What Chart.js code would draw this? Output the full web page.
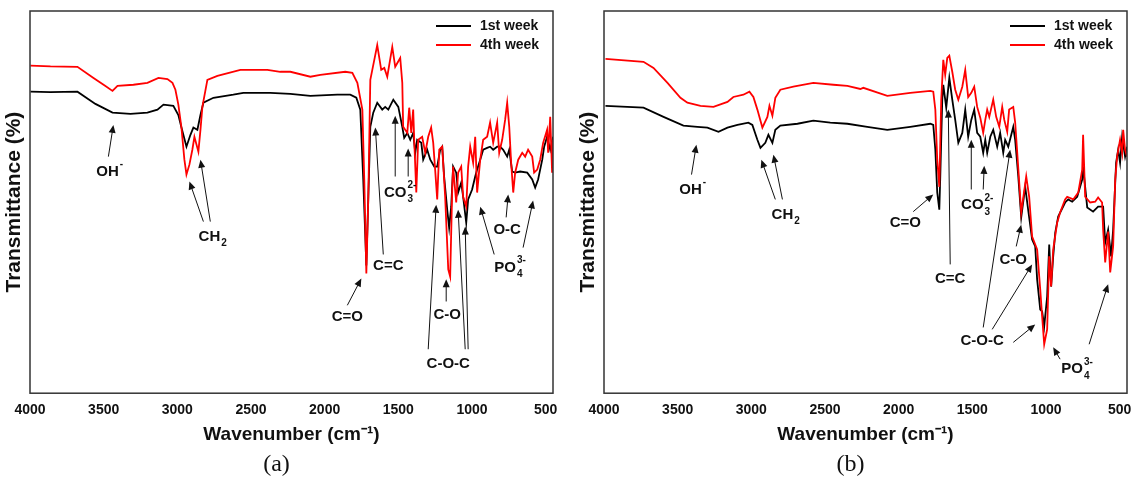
<!DOCTYPE html>
<html>
<head>
<meta charset="utf-8">
<script src="https://cdn.jsdelivr.net/npm/chart.js@4.4.1/dist/chart.umd.min.js"></script>
<style>
  body { margin: 0; background: #fff; overflow: hidden; }
  canvas { position: absolute; top: 0; }
  #chartA { left: 0; }
  #chartB { left: 574px; }
</style>
</head>
<body>
<canvas id="chartA" width="568" height="480"></canvas>
<canvas id="chartB" width="563" height="480"></canvas>
<script>
const tickLabels = [4000, 3500, 3000, 2500, 2000, 1500, 1000, 500];
const seriesNames = ['1st week', '4th week'];
const seriesColors = ['#000000', '#ff0000'];

// panel (a) - wavenumber (cm-1) and transmittance (%)
const aWeek1Wn = [3997,3861,3678,3556,3440,3318,3203,3135,3094,3027,2993,2972,2938,2911,2891,2864,2843,2823,2755,2620,2552,2369,2233,2097,1914,1826,1785,1758,1738,1717,1704,1690,1670,1643,1609,1589,1568,1534,1500,1473,1460,1439,1419,1399,1385,1372,1344,1331,1304,1283,1256,1236,1216,1202,1189,1168,1155,1141,1128,1107,1094,1073,1060,1039,1026,999,978,965,944,924,897,877,856,829,809,788,761,747,727,707,673,625,591,571,551,523,510,490,469,449];
const aWeek1T = [78.9,78.8,78.9,75.7,73.4,73.1,73.4,74.2,75.5,75.2,72.8,69.5,64.5,67.6,69.5,68.9,72.8,76.0,77.3,78.1,78.6,78.6,78.3,77.8,78.1,78.1,77.3,74.2,55.9,33.4,50.7,69.7,73.4,76.0,74.2,74.9,74.2,76.8,74.9,69.7,66.8,68.1,66.3,68.1,62.9,66.3,65.5,61.1,63.7,61.1,59.3,59.3,63.7,64.5,56.7,48.0,43.3,48.8,59.3,57.7,52.5,55.1,51.4,44.6,50.7,53.3,56.7,58.5,61.1,63.7,64.2,64.5,63.7,64.5,64.5,63.7,61.9,63.7,58.0,57.7,58.0,57.7,55.9,53.8,55.9,61.1,64.5,67.1,63.7,67.1];
const aWeek4Wn = [3997,3861,3678,3569,3488,3440,3406,3298,3203,3128,3067,3033,3013,2993,2972,2952,2938,2918,2898,2884,2857,2843,2830,2796,2728,2572,2389,2301,2233,2097,2029,1860,1812,1778,1744,1731,1717,1704,1690,1663,1643,1616,1595,1575,1541,1521,1487,1473,1467,1439,1426,1412,1399,1392,1378,1365,1338,1317,1297,1277,1263,1250,1236,1222,1202,1182,1161,1148,1134,1128,1107,1094,1073,1060,1039,1026,1012,992,978,965,944,924,897,877,856,829,815,795,775,761,747,734,720,707,686,659,639,619,591,578,557,537,517,490,483,469,456,449];
const aWeek4T = [85.7,85.5,85.4,82.5,80.4,79.1,80.4,80.7,81.2,82.5,82.2,81.2,79.4,75.5,69.5,61.1,57.2,59.8,63.7,67.1,63.2,68.9,74.9,82.0,83.0,84.6,84.6,84.1,84.1,82.8,83.3,84.1,83.8,81.2,74.2,55.9,31.3,50.7,82.0,87.2,91.1,84.6,85.1,82.8,90.6,85.4,87.7,81.2,69.7,68.1,74.7,68.1,74.2,66.3,52.5,66.3,67.1,62.9,67.1,69.5,65.5,58.5,50.7,63.7,64.5,51.4,32.4,30.5,53.3,59.3,49.9,57.7,59.3,51.4,48.8,59.3,64.5,60.3,67.1,52.5,61.1,66.3,67.1,70.8,65.5,70.8,62.9,66.3,71.5,76.0,69.7,60.3,52.5,57.7,61.1,62.9,61.9,63.7,61.9,57.7,58.5,61.1,65.5,68.9,62.9,72.3,57.7,66.3];

// panel (b)
const bWeek1Wn = [3990,3732,3596,3461,3366,3298,3223,3162,3094,3020,2993,2959,2938,2905,2884,2857,2837,2803,2687,2579,2464,2348,2213,2077,1921,1785,1765,1751,1738,1724,1718,1704,1697,1677,1656,1636,1616,1595,1568,1548,1528,1507,1487,1467,1446,1426,1412,1399,1378,1358,1331,1311,1290,1277,1256,1222,1209,1188,1168,1141,1121,1094,1073,1060,1039,1026,1012,992,978,965,951,937,917,870,849,822,788,754,748,720,680,646,612,598,578,558,544,524,510,497,483,463,449];
const bWeek1T = [75.2,74.7,72.3,70.0,69.7,69.5,68.4,69.5,70.2,70.8,70.2,66.3,64.2,65.5,67.6,65.5,68.9,70.0,70.5,71.3,70.8,70.5,69.7,68.9,69.7,70.5,70.2,63.7,52.5,48.0,55.9,76.8,80.7,74.7,82.5,76.8,71.5,65.5,68.1,74.2,67.1,71.5,74.2,68.1,67.1,62.9,66.3,62.9,67.1,68.9,64.5,68.1,62.9,66.3,64.5,69.7,66.3,56.7,46.0,54.0,48.0,40.2,38.4,29.8,21.9,21.4,17.5,25.3,38.9,27.9,35.8,42.0,46.2,49.9,50.7,50.1,51.4,55.9,59.3,48.6,47.5,48.8,48.8,39.4,42.8,35.8,42.8,60.3,63.7,60.3,67.1,61.9,64.5];
const bWeek4Wn = [3990,3732,3664,3569,3481,3434,3345,3257,3162,3122,3054,3013,2986,2959,2925,2891,2877,2857,2837,2803,2715,2579,2443,2348,2260,2240,2077,1921,1785,1765,1751,1738,1724,1711,1697,1684,1670,1656,1636,1616,1595,1568,1548,1528,1507,1487,1467,1446,1426,1412,1399,1385,1358,1338,1317,1297,1283,1263,1250,1222,1209,1195,1168,1134,1114,1094,1060,1039,1026,1012,992,978,965,951,924,904,870,856,815,781,754,748,734,700,666,646,619,612,598,578,564,544,530,517,497,483,476,463,449];
const bWeek4T = [87.5,86.7,85.1,81.2,77.3,76.0,75.2,74.9,76.2,77.5,78.1,78.9,77.5,74.2,69.5,72.3,75.2,72.6,77.3,79.4,80.2,81.2,80.7,80.4,79.6,79.9,77.8,78.6,79.1,78.9,74.2,61.1,54.0,76.8,87.2,83.3,87.7,88.3,84.1,79.4,76.8,80.2,84.6,77.5,78.6,80.2,74.9,72.1,68.1,71.5,74.2,72.3,76.8,72.3,69.7,74.9,71.5,68.4,74.2,74.9,70.8,62.9,47.3,56.7,51.4,41.0,37.6,27.2,20.1,12.8,16.7,35.8,27.9,37.6,44.6,47.3,50.7,51.4,50.7,52.5,58.5,67.6,51.4,49.9,50.1,51.2,49.9,42.8,34.2,42.3,31.6,38.4,55.9,61.9,66.3,62.9,68.9,63.7,61.9];

// band labels: text at (wavenumber, T), arrows [fromWn, fromT, toWn, toT]
const notesA = [
  {t: 'OH', sup: '-', x: 3474, y: 58.0, arrows: [[3468, 61.9, 3434, 70.2]]},
  {t: 'CH', sub: '2', x: 2782, y: 41.0, arrows: [[2823, 44.9, 2918, 55.4], [2776, 44.9, 2843, 61.1]]},
  {t: 'C=O', x: 1846, y: 20.1, arrows: [[1846, 23.0, 1751, 30.0]]},
  {t: 'C=C', x: 1568, y: 33.2, arrows: [[1602, 36.3, 1656, 69.5]]},
  {t: 'CO', sub: '3', sup: '2-', x: 1521, y: 52.5, arrows: [[1521, 56.7, 1521, 72.6], [1433, 56.7, 1433, 64.0]]},
  {t: 'C-O', x: 1168, y: 20.6, arrows: [[1175, 24.0, 1175, 29.8]]},
  {t: 'C-O-C', x: 1161, y: 7.6, arrows: [[1297, 11.5, 1243, 49.3], [1046, 11.5, 1094, 48.0], [1026, 11.5, 1046, 43.6]]},
  {t: 'O-C', x: 761, y: 42.8, arrows: [[768, 46.0, 754, 52.0]]},
  {t: 'PO', sub: '4', sup: '3-', x: 775, y: 32.9, arrows: [[849, 36.3, 944, 48.8], [653, 38.1, 585, 50.4]]}
];
const notesB = [
  {t: 'OH', sup: '-', x: 3413, y: 53.3, arrows: [[3406, 57.2, 3373, 65.0]]},
  {t: 'CH', sub: '2', x: 2789, y: 46.7, arrows: [[2837, 50.7, 2932, 61.1], [2789, 50.7, 2850, 62.4]]},
  {t: 'C=O', x: 1955, y: 44.6, arrows: [[1901, 47.5, 1765, 52.0]]},
  {t: 'C=C', x: 1650, y: 29.8, arrows: [[1650, 33.7, 1663, 74.2]]},
  {t: 'CO', sub: '3', sup: '2-', x: 1500, y: 49.3, arrows: [[1507, 53.3, 1507, 66.3], [1426, 53.3, 1419, 59.5]]},
  {t: 'C-O', x: 1222, y: 35.0, arrows: [[1202, 38.4, 1168, 44.1]]},
  {t: 'C-O-C', x: 1433, y: 13.6, arrows: [[1426, 17.2, 1243, 63.7], [1365, 16.7, 1094, 33.7], [1222, 13.3, 1073, 18.0]]},
  {t: 'PO', sub: '4', sup: '3-', x: 822, y: 6.3, arrows: [[904, 8.9, 951, 12.0], [707, 12.8, 578, 28.5]]}
];

const family = '"Liberation Sans", Arial, sans-serif';

function pts(wn, t) {
  return wn.map((x, i) => ({x: x, y: t[i]}));
}

function arrow(ctx, x1, y1, x2, y2) {
  const ang = Math.atan2(y2 - y1, x2 - x1);
  const len = 8, half = 3.5;
  ctx.strokeStyle = '#111';
  ctx.fillStyle = '#111';
  ctx.lineWidth = 1;
  ctx.beginPath();
  ctx.moveTo(x1, y1);
  ctx.lineTo(x2 - Math.cos(ang) * len * 0.8, y2 - Math.sin(ang) * len * 0.8);
  ctx.stroke();
  ctx.beginPath();
  ctx.moveTo(x2, y2);
  ctx.lineTo(x2 - Math.cos(ang) * len + Math.sin(ang) * half, y2 - Math.sin(ang) * len - Math.cos(ang) * half);
  ctx.lineTo(x2 - Math.cos(ang) * len - Math.sin(ang) * half, y2 - Math.sin(ang) * len + Math.cos(ang) * half);
  ctx.closePath();
  ctx.fill();
}

const extras = {
  id: 'extras',
  afterDatasetsDraw(chart, args, opts) {
    const {ctx, chartArea: ca} = chart;
    const xs = chart.scales.x, ys = chart.scales.y;
    ctx.save();
    ctx.strokeStyle = '#333';
    ctx.lineWidth = 1.5;
    ctx.strokeRect(ca.left, ca.top, ca.right - ca.left, ca.bottom - ca.top);

    // legend inside the top right corner
    chart.data.datasets.forEach((ds, i) => {
      const ly = ca.top + 15 + i * 19;
      ctx.strokeStyle = ds.borderColor;
      ctx.lineWidth = 2;
      ctx.beginPath();
      ctx.moveTo(ca.right - 117, ly);
      ctx.lineTo(ca.right - 82, ly);
      ctx.stroke();
      ctx.fillStyle = '#111';
      ctx.font = 'bold 14px ' + family;
      ctx.textAlign = 'left';
      ctx.textBaseline = 'middle';
      ctx.fillText(ds.label, ca.right - 73, ly);
    });

    opts.notes.forEach(n => {
      const px = xs.getPixelForValue(n.x), py = ys.getPixelForValue(n.y);
      ctx.fillStyle = '#111';
      ctx.font = 'bold 15px ' + family;
      ctx.textAlign = 'center';
      ctx.textBaseline = 'middle';
      ctx.fillText(n.t, px, py);
      const w = ctx.measureText(n.t).width;
      ctx.font = 'bold 10px ' + family;
      ctx.textAlign = 'left';
      if (n.sup) ctx.fillText(n.sup, px + w / 2 + 1, py - 7);
      if (n.sub) ctx.fillText(n.sub, px + w / 2 + 1, py + 7);
      n.arrows.forEach(a => arrow(ctx,
        xs.getPixelForValue(a[0]), ys.getPixelForValue(a[1]),
        xs.getPixelForValue(a[2]), ys.getPixelForValue(a[3])));
    });
    ctx.restore();
  }
};

function makeChart(id, w1wn, w1t, w4wn, w4t, notes, tag, padRight) {
  return new Chart(document.getElementById(id), {
    type: 'line',
    data: {
      datasets: [
        {label: seriesNames[0], data: pts(w1wn, w1t), borderColor: seriesColors[0], order: 1},
        {label: seriesNames[1], data: pts(w4wn, w4t), borderColor: seriesColors[1], order: 0}
      ]
    },
    options: {
      responsive: false,
      animation: false,
      elements: {
        point: {radius: 0},
        line: {borderWidth: 1.8, tension: 0}
      },
      layout: {padding: {top: 11, right: padRight, bottom: 1, left: 0}},
      scales: {
        x: {
          type: 'linear',
          reverse: true,
          min: 450,
          max: 4000,
          grid: {display: false, drawTicks: false},
          border: {display: false},
          afterBuildTicks: s => { s.ticks = tickLabels.map(v => ({value: v})); },
          afterFit: s => { s.height = 57; s.paddingLeft = 0; s.paddingRight = 0; },
          ticks: {
            color: '#111', padding: 9, maxRotation: 0, autoSkip: false,
            callback: v => String(v),
            font: {family: family, size: 14, weight: 'bold'}
          },
          title: {
            display: true, text: 'Wavenumber (cm\u207B\u00B9)', color: '#111',
            font: {family: family, size: 19, weight: 'bold'},
            padding: {top: 0, bottom: 4}
          }
        },
        y: {
          min: 0,
          max: 100,
          grid: {display: false, drawTicks: false},
          border: {display: false},
          ticks: {display: false},
          afterFit: s => { s.width = 30; },
          title: {
            display: true, text: 'Transmittance (%)', color: '#111',
            font: {family: family, size: 21, weight: 'bold'},
            padding: {top: 2, bottom: 0}
          }
        }
      },
      plugins: {
        legend: {display: false},
        tooltip: {enabled: false},
        title: {
          display: true, position: 'bottom', text: tag, color: '#111',
          font: {family: '"Liberation Serif", "Times New Roman", serif', size: 24, weight: 'normal'},
          padding: 0
        },
        extras: {notes: notes}
      }
    },
    plugins: [extras]
  });
}

makeChart('chartA', aWeek1Wn, aWeek1T, aWeek4Wn, aWeek4T, notesA, '(a)', 15);
makeChart('chartB', bWeek1Wn, bWeek1T, bWeek4Wn, bWeek4T, notesB, '(b)', 10);
</script>
</body>
</html>
